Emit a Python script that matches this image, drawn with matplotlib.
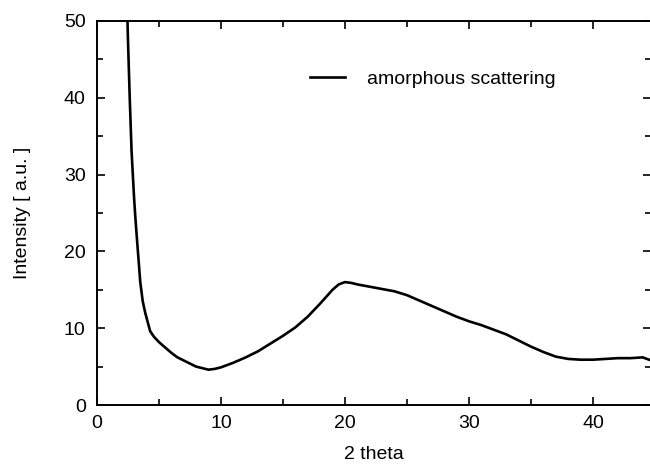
import numpy as np
import matplotlib.pyplot as plt
from matplotlib.ticker import MultipleLocator

# values (2 theta, intensity in a.u.)
two_theta = [2.4, 2.5, 2.65, 2.8, 3.0, 3.1, 3.3, 3.5, 3.7, 3.9, 4.1, 4.3, 4.6,
             5.0, 5.5, 6.0, 6.5, 7.0, 7.5, 8.0, 8.5, 9.0, 9.5, 10.0, 11.0,
             12.0, 13.0, 14.0, 15.0, 16.0, 17.0, 18.0, 18.5, 19.0, 19.5,
             20.0, 20.5, 21.0, 22.0, 23.0, 24.0, 25.0, 26.0, 27.0, 28.0,
             29.0, 30.0, 31.0, 32.0, 33.0, 34.0, 35.0, 36.0, 37.0, 38.0,
             39.0, 40.0, 41.0, 42.0, 43.0, 44.0, 44.7]
intensity = [55.0, 48.0, 40.0, 33.0, 27.0, 24.5, 20.2, 16.0, 13.5, 12.0, 10.8,
             9.6, 8.9, 8.2, 7.5, 6.8, 6.2, 5.8, 5.4, 5.0, 4.8, 4.6, 4.7, 4.9,
             5.5, 6.2, 7.0, 8.0, 9.0, 10.1, 11.5, 13.2, 14.1, 15.0, 15.7,
             16.0, 15.9, 15.7, 15.4, 15.1, 14.8, 14.3, 13.6, 12.9, 12.2,
             11.5, 10.9, 10.4, 9.8, 9.2, 8.4, 7.6, 6.9, 6.3, 6.0, 5.9, 5.9,
             6.0, 6.1, 6.1, 6.2, 5.8]
series_label = "amorphous scattering"

plt.rcParams['font.family'] = ['Liberation Sans', 'DejaVu Sans']
plt.rcParams['font.size'] = 14

fig = plt.figure(figsize=(6.5, 4.65), dpi=100)
ax = fig.add_axes([0.149, 0.129, 0.853, 0.826])

ax.plot(two_theta, intensity, color='black', lw=1.9, label=series_label)

ax.set_xlim(0, 44.7)
ax.set_ylim(0, 50)
ax.xaxis.set_major_locator(MultipleLocator(10))
ax.xaxis.set_minor_locator(MultipleLocator(5))
ax.yaxis.set_major_locator(MultipleLocator(10))
ax.yaxis.set_minor_locator(MultipleLocator(5))
ax.tick_params(which='both', direction='in', top=True, right=True, width=1.2,
               labelsize=14)
ax.tick_params(which='major', length=6)
ax.tick_params(which='minor', length=4)
ax.tick_params(axis='x', pad=7)
ax.tick_params(axis='y', pad=8)
for sp in ax.spines.values():
    sp.set_linewidth(1.4)

ax.set_xlabel("2 theta", labelpad=10)
ax.set_ylabel("Intensity [ a.u. ]", labelpad=24)

ax.legend(loc='center left', bbox_to_anchor=(0.353, 0.848), frameon=False,
          handlelength=1.8, handletextpad=1.13, fontsize=14)

fig.savefig("out.png", dpi=100)
